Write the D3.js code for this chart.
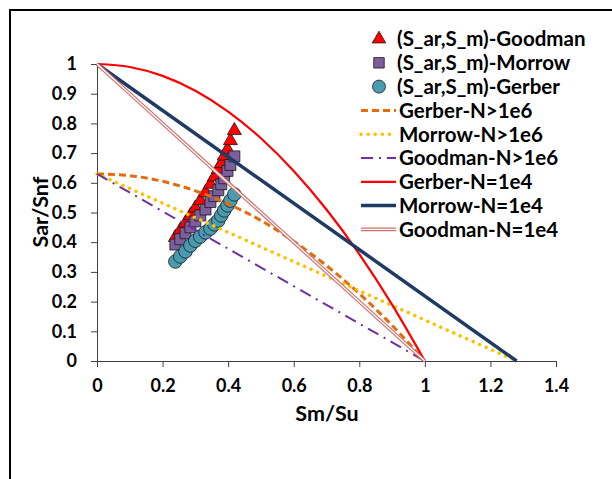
<!DOCTYPE html>
<html><head><meta charset="utf-8">
<script src="https://cdn.jsdelivr.net/npm/d3@7"></script>
<style>
body{margin:0;background:#fff;}
text{font-family:Lato,"Open Sans",sans-serif;font-weight:bold;fill:#000;}
</style></head>
<body>
<svg id="c" width="612" height="479"></svg>
<script>
// ---- data ----
const sm = [0.239,0.254,0.270,0.285,0.300,0.315,0.331,0.346,0.358,0.370,0.379,0.388,0.398,0.407,0.419];
const sarGoodman = [0.416,0.440,0.465,0.490,0.515,0.540,0.567,0.595,0.620,0.645,0.665,0.690,0.712,0.742,0.776];
const sarMorrow  = [0.392,0.410,0.430,0.450,0.470,0.490,0.510,0.535,0.555,0.575,0.595,0.615,0.640,0.660,0.689];
const sarGerber  = [0.335,0.352,0.369,0.389,0.405,0.419,0.433,0.446,0.460,0.473,0.490,0.507,0.524,0.540,0.561];

const gerberX     = [0,0.1,0.2,0.3,0.4,0.5,0.6,0.7,0.8,0.9,1.0];
const gerber1e6Y  = [0.63,0.624,0.605,0.573,0.529,0.473,0.403,0.321,0.227,0.120,0];
const gerber1e4Y  = [1,0.99,0.96,0.91,0.84,0.75,0.64,0.51,0.36,0.19,0];
const morrowX     = [0,1.28];
const morrow1e6Y  = [0.63,0];
const morrow1e4Y  = [1,0];
const goodmanX    = [0,1];
const goodman1e6Y = [0.63,0];
const goodman1e4Y = [1,0];

const xTicks = [0,0.2,0.4,0.6,0.8,1,1.2,1.4];
const yTicks = [0,0.1,0.2,0.3,0.4,0.5,0.6,0.7,0.8,0.9,1];

const scatterNames = ["(S_ar,S_m)-Goodman","(S_ar,S_m)-Morrow","(S_ar,S_m)-Gerber"];
const lineNames = ["Gerber-N>1e6","Morrow-N>1e6","Goodman-N>1e6","Gerber-N=1e4","Morrow-N=1e4","Goodman-N=1e4"];

// ---- drawing ----
const svg = d3.select("#c");
svg.append("rect").attr("x",10).attr("y",10).attr("width",640).attr("height",520)
  .attr("fill","none").attr("stroke","#000").attr("stroke-width",2);

const x = d3.scaleLinear().domain([0,1.4]).range([97,556]);
const y = d3.scaleLinear().domain([0,1]).range([361,64]);

const fmt = d => d3.format("")(+d.toFixed(1));
const xAxis = svg.append("g").attr("transform","translate(0,361)")
  .call(d3.axisBottom(x).tickValues(xTicks).tickSize(6).tickPadding(12).tickFormat(fmt).tickSizeOuter(0));
const yAxis = svg.append("g").attr("transform","translate(97,0)")
  .call(d3.axisLeft(y).tickValues(yTicks).tickSize(6).tickPadding(14).tickFormat(fmt).tickSizeOuter(0));
[xAxis,yAxis].forEach(a=>{
  a.attr("font-size",null).attr("font-family",null);
  a.selectAll("path,line").attr("stroke","#404040").attr("stroke-width",1);
  a.selectAll("text").style("font-size","18px").attr("fill","#000");
});

svg.append("text").attr("x",327).attr("y",421).attr("text-anchor","middle")
  .style("font-size","21.5px").text("Sm/Su");
svg.append("text").attr("transform","translate(48,212) rotate(-90)").attr("text-anchor","middle")
  .style("font-size","21.5px").text("Sar/Snf");

// marker shapes
const tri = d3.symbol().type(d3.symbolTriangle).size(85);
const sq  = d3.symbol().type(d3.symbolSquare).size(120);
const pts = (ys) => sm.map((v,i)=>[v,ys[i]]);

const gT = svg.append("g");
gT.selectAll("path").data(pts(sarGoodman)).join("path")
  .attr("d",tri).attr("transform",d=>`translate(${x(d[0])},${y(d[1])})`)
  .attr("fill","#FF0000").attr("stroke","#1a1a1a").attr("stroke-width",0.8);
const gS = svg.append("g");
gS.selectAll("path").data(pts(sarMorrow)).join("path")
  .attr("d",sq).attr("transform",d=>`translate(${x(d[0])},${y(d[1])})`)
  .attr("fill","#7B5E9E").attr("stroke","#1a1a1a").attr("stroke-width",0.8);
const gC = svg.append("g");
gC.selectAll("circle").data(pts(sarGerber)).join("circle")
  .attr("cx",d=>x(d[0])).attr("cy",d=>y(d[1])).attr("r",6.8)
  .attr("fill","#4A9BB0").attr("stroke","#1a1a1a").attr("stroke-width",0.8);

// lines
const lineGen = d3.line().x(d=>x(d[0])).y(d=>y(d[1]));
const curveGen = d3.line().x(d=>x(d[0])).y(d=>y(d[1])).curve(d3.curveMonotoneX);
const zip = (xs,ys)=>xs.map((v,i)=>[v,ys[i]]);

const styles = [
  {gen:curveGen, data:zip(gerberX,gerber1e6Y), stroke:"#E46C0A", w:3, dash:"7,4", cap:"butt"},
  {gen:lineGen,  data:zip(morrowX,morrow1e6Y), stroke:"#FFC000", w:3.5, dash:"0.1,7", cap:"round"},
  {gen:lineGen,  data:zip(goodmanX,goodman1e6Y), stroke:"#7030A0", w:2, dash:"12,6,2,6", cap:"butt"},
  {gen:curveGen, data:zip(gerberX,gerber1e4Y), stroke:"#FF0000", w:2.2, dash:null, cap:"butt"},
  {gen:lineGen,  data:zip(morrowX,morrow1e4Y), stroke:"#1F3B63", w:3.5, dash:null, cap:"butt"},
  {gen:lineGen,  data:zip(goodmanX,goodman1e4Y), stroke:"#D06E6C", w:3.6, dash:null, cap:"butt", dbl:true}
];
styles.forEach(s=>{
  svg.append("path").attr("d",s.gen(s.data)).attr("fill","none")
    .attr("stroke",s.stroke).attr("stroke-width",s.w)
    .attr("stroke-dasharray",s.dash).attr("stroke-linecap",s.cap);
  if(s.dbl) svg.append("path").attr("d",s.gen(s.data)).attr("fill","none")
    .attr("stroke","#fff").attr("stroke-width",1.3);
});

// legend
const lg = svg.append("g");
const rowY = i => 39 + i*23.8;
const markerFns = [
  (g,cy)=>g.append("path").attr("d",d3.symbol().type(d3.symbolTriangle).size(80)()).attr("transform",`translate(379,${cy})`).attr("fill","#FF0000").attr("stroke","#1a1a1a").attr("stroke-width",0.8),
  (g,cy)=>g.append("path").attr("d",d3.symbol().type(d3.symbolSquare).size(110)()).attr("transform",`translate(379,${cy})`).attr("fill","#7B5E9E").attr("stroke","#1a1a1a").attr("stroke-width",0.8),
  (g,cy)=>g.append("circle").attr("cx",379).attr("cy",cy).attr("r",6.5).attr("fill","#4A9BB0").attr("stroke","#1a1a1a").attr("stroke-width",0.8)
];
scatterNames.forEach((n,i)=>{
  markerFns[i](lg,rowY(i));
  lg.append("text").attr("x",397).attr("y",rowY(i)).attr("dy","0.36em").style("font-size","20.5px").text(n);
});
lineNames.forEach((n,j)=>{
  const i = j+3, s = styles[j], cy = rowY(i);
  lg.append("line").attr("x1",361).attr("x2",396).attr("y1",cy).attr("y2",cy)
    .attr("stroke",s.stroke).attr("stroke-width",s.w).attr("stroke-dasharray",s.dash).attr("stroke-linecap",s.cap);
  if(s.dbl) lg.append("line").attr("x1",361).attr("x2",396).attr("y1",cy).attr("y2",cy).attr("stroke","#fff").attr("stroke-width",1.3);
  lg.append("text").attr("x",399).attr("y",cy).attr("dy","0.36em").style("font-size","20.5px").text(n);
});
</script>
</body></html>
